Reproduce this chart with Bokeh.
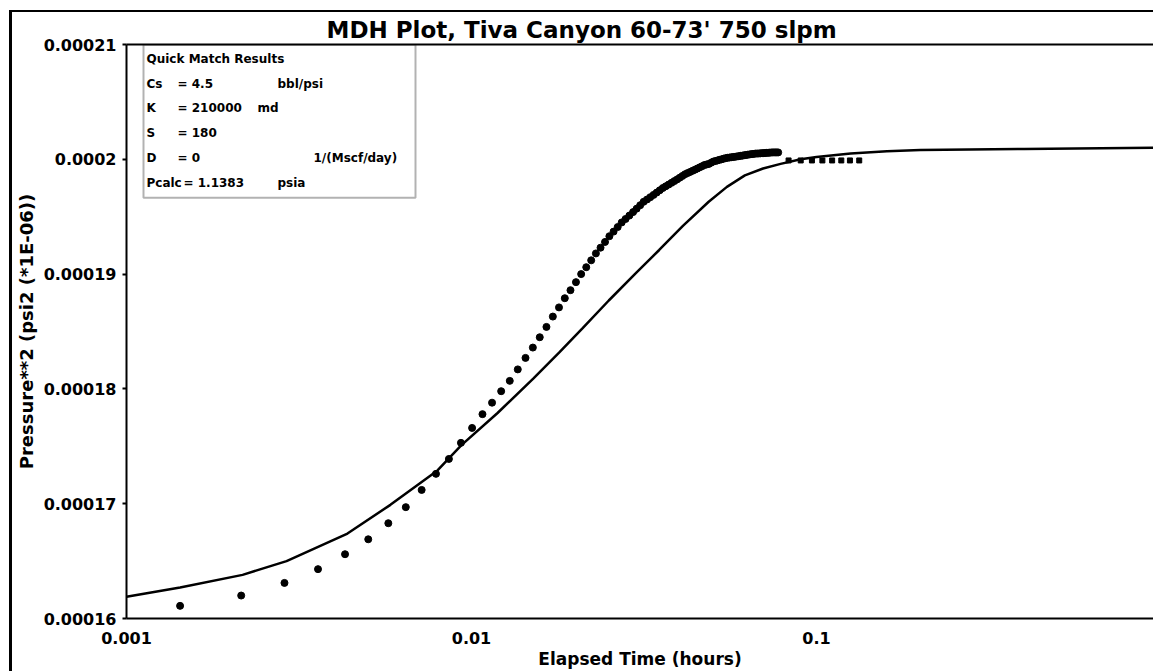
from bokeh.plotting import figure
from bokeh.models import (FixedTicker, CustomJSTickFormatter, Range1d, LogAxis,
                          BoxAnnotation, Label)
from bokeh.embed import file_html
from bokeh.resources import INLINE

# ---------------- data ----------------
title_text = "MDH Plot, Tiva Canyon 60-73' 750 slpm"
x_label = "Elapsed Time (hours)"
y_label = "Pressure**2 (psi2 (*1E-06))"

x_ticks = [0.001, 0.01, 0.1]
y_ticks = [0.00016, 0.00017, 0.00018, 0.00019, 0.0002, 0.00021]

# measured points (filled circles)
t_meas = [0.00143, 0.00215, 0.00287, 0.00359, 0.00430, 0.00502, 0.00574, 0.00645,
          0.00717, 0.00789, 0.00860, 0.00932, 0.01004, 0.01076, 0.01147, 0.01219,
          0.01291, 0.01362, 0.01434, 0.01506, 0.01577, 0.01649, 0.01721, 0.01793,
          0.01864, 0.01936, 0.02008, 0.02079, 0.02151, 0.02223, 0.02294, 0.02366,
          0.02438, 0.02510, 0.02581, 0.02653, 0.02725, 0.02796, 0.02868, 0.02940,
          0.03011, 0.03083, 0.03155, 0.03227, 0.03298, 0.03370, 0.03442, 0.03513,
          0.03585, 0.03657, 0.03728, 0.03800, 0.03872, 0.03944, 0.04015, 0.04087,
          0.04159, 0.04230, 0.04302, 0.04374, 0.04445, 0.04517, 0.04589, 0.04661,
          0.04732, 0.04804, 0.04876, 0.04947, 0.05019, 0.05091, 0.05162, 0.05234,
          0.05306, 0.05378, 0.05449, 0.05521, 0.05593, 0.05664, 0.05736, 0.05808,
          0.05879, 0.05951, 0.06023, 0.06095, 0.06166, 0.06238, 0.06310, 0.06381,
          0.06453, 0.06525, 0.06596, 0.06668, 0.06740, 0.06812, 0.06883, 0.06955,
          0.07027, 0.07098, 0.07170, 0.07242, 0.07313, 0.07385, 0.07457, 0.07529,
          0.07600, 0.07672, 0.07744]
p_meas = [0.0001611, 0.0001620, 0.0001631, 0.0001643, 0.0001656, 0.0001669, 0.0001683, 0.0001697,
          0.0001712, 0.0001726, 0.0001739, 0.0001753, 0.0001766, 0.0001778, 0.0001788, 0.0001798,
          0.0001807, 0.0001817, 0.0001827, 0.0001836, 0.0001845, 0.0001854, 0.0001863, 0.0001871,
          0.0001879, 0.0001886, 0.0001893, 0.0001900, 0.0001906, 0.0001912, 0.0001918, 0.0001923,
          0.0001928, 0.0001933, 0.0001937, 0.0001941, 0.0001945, 0.0001948, 0.0001951, 0.0001954,
          0.0001957, 0.0001960, 0.0001963, 0.0001965, 0.0001967, 0.0001969, 0.0001971, 0.0001973,
          0.0001975, 0.00019765, 0.0001978, 0.00019795, 0.0001981, 0.00019825, 0.0001984, 0.00019855,
          0.0001987, 0.0001988, 0.0001989, 0.0001990, 0.0001991, 0.0001992, 0.0001993, 0.0001994,
          0.0001995, 0.00019955, 0.0001996, 0.0001997, 0.0001998, 0.00019985, 0.0001999, 0.00019995,
          0.0002000, 0.00020005, 0.0002001, 0.00020013, 0.00020015, 0.00020018, 0.0002002, 0.00020022,
          0.00020025, 0.00020027, 0.0002003, 0.00020032, 0.00020035, 0.00020037, 0.0002004, 0.00020042,
          0.00020044, 0.00020046, 0.00020048, 0.0002005, 0.0002005, 0.00020051, 0.00020052, 0.00020053,
          0.00020054, 0.00020055, 0.00020056, 0.00020057, 0.00020058, 0.00020059, 0.0002006, 0.0002006,
          0.0002006, 0.0002006, 0.0002006]

# later measured points (small squares)
t_late = [0.083, 0.090, 0.097, 0.104, 0.111, 0.118, 0.125, 0.133]
p_late = [0.0001999, 0.0001999, 0.0001999, 0.0001999, 0.0001999, 0.0001999, 0.0001999, 0.0001999]

# model match curve (solid line)
t_model = [0.001, 0.00143, 0.00217, 0.00291, 0.00437, 0.00582, 0.00797, 0.00935, 0.0119,
           0.0151, 0.018, 0.021, 0.025, 0.03, 0.035, 0.041, 0.0487, 0.055, 0.062, 0.07,
           0.0787, 0.09, 0.1, 0.1256, 0.16, 0.2, 0.4, 0.95]
p_model = [0.0001619, 0.0001627, 0.0001638, 0.000165, 0.0001674, 0.0001699, 0.0001729, 0.0001751,
           0.0001779, 0.0001809, 0.0001832, 0.0001853, 0.0001877, 0.0001901, 0.0001921, 0.0001942,
           0.0001963, 0.0001976, 0.0001986, 0.0001992, 0.0001996, 0.0002, 0.0002002, 0.0002005,
           0.0002007, 0.0002008, 0.0002009, 0.000201]

box_title = "Quick Match Results"
box_names = ["Cs", "K", "S", "D", "Pcalc"]
box_values = ["= 4.5", "= 210000", "= 180", "= 0", "= 1.1383"]
box_units = ["bbl/psi", "md", "", "1/(Mscf/day)", "psia"]

# ---------------- layout ----------------
FONT = "DejaVu Sans"
W, H = 1153, 671
FL, FT, FB = 126, 44, 621          # frame left / top / bottom (px)
DEC = 345.0                        # px per decade
X0 = 0.001
X1 = 10 ** (-3 + (W - FL) / DEC)
Y0, Y1 = 0.00016, 0.00021


def px2t(px):
    return 10 ** (-3 + (px - FL) / DEC)


def py2p(py):
    return Y0 + (FB - py) / (FB - FT) * (Y1 - Y0)


p = figure(width=W, height=H, x_axis_type="log",
           x_range=Range1d(X0, X1), y_range=Range1d(Y0, Y1),
           output_backend="svg", toolbar_location=None,
           min_border_left=FL, min_border_right=0, min_border_top=FT,
           min_border_bottom=H - FB)

p.outline_line_color = None
p.xgrid.visible = False
p.ygrid.visible = False
p.background_fill_color = "white"
p.border_fill_color = "white"

p.title.text = title_text
p.title.align = "left"
p.title.offset = 200
p.title.text_font = FONT
p.title.text_font_size = "23px"
p.title.text_font_style = "bold"
p.title.text_color = "black"
p.title.standoff = 4

xa = p.xaxis[0]
xa.ticker = FixedTicker(ticks=x_ticks)
xa.formatter = CustomJSTickFormatter(code="return tick.toString();")
xa.axis_line_width = 2
xa.axis_line_color = "black"
xa.major_tick_line_color = None
xa.minor_tick_line_color = None
xa.major_label_standoff = 7
xa.major_label_text_font = FONT
xa.major_label_text_font_style = "bold"
xa.major_label_text_font_size = "16px"
xa.major_label_text_color = "black"
xa.axis_label = x_label
xa.axis_label_text_font = FONT
xa.axis_label_text_font_style = "bold"
xa.axis_label_text_font_size = "17px"
xa.axis_label_text_color = "black"
xa.axis_label_standoff = 2

ya = p.yaxis[0]
ya.ticker = FixedTicker(ticks=y_ticks)
ya.formatter = CustomJSTickFormatter(code="return Number(tick.toPrecision(3)).toString();")
ya.axis_line_width = 2
ya.axis_line_color = "black"
ya.major_tick_line_color = "black"
ya.major_tick_line_width = 2
ya.major_tick_out = 4
ya.major_tick_in = 0
ya.minor_tick_line_color = None
ya.major_label_standoff = 6
ya.major_label_text_font = FONT
ya.major_label_text_font_style = "bold"
ya.major_label_text_font_size = "16px"
ya.major_label_text_color = "black"
ya.axis_label = y_label
ya.axis_label_text_font = FONT
ya.axis_label_text_font_style = "bold"
ya.axis_label_text_font_size = "18px"
ya.axis_label_text_color = "black"
ya.axis_label_standoff = 4

top = LogAxis(ticker=FixedTicker(ticks=[]), axis_line_width=2, axis_line_color="black",
              major_tick_line_color=None, minor_tick_line_color=None,
              major_label_text_font_size="0px", major_label_standoff=0)
p.add_layout(top, "above")

# model curve
p.line(t_model, p_model, line_color="black", line_width=2.5)

# measured points
p.scatter(t_meas, p_meas, marker="circle", size=7, fill_color="black", line_color="black")
p.scatter(t_late, p_late, marker="square", size=5, fill_color="black", line_color="black")

# results box
p.add_layout(BoxAnnotation(left=px2t(143), right=px2t(415), top=Y1, bottom=py2p(198),
                           fill_color=None, fill_alpha=0, line_color="black", line_width=2))

row_y = [84, 108, 133, 158, 183]
val_x = [177, 177, 177, 177, 183]
unit_x = [277, 257, 277, 313, 277]
lab_kw = dict(text_font=FONT, text_font_style="bold", text_font_size="12px",
              text_color="black", text_baseline="middle", text_align="left")
p.add_layout(Label(x=px2t(146), y=py2p(59), text=box_title, **lab_kw))
for nm, vl, un, yy, vx, ux in zip(box_names, box_values, box_units, row_y, val_x, unit_x):
    p.add_layout(Label(x=px2t(146), y=py2p(yy), text=nm, **lab_kw))
    p.add_layout(Label(x=px2t(vx), y=py2p(yy), text=vl, **lab_kw))
    if un:
        p.add_layout(Label(x=px2t(ux), y=py2p(yy), text=un, **lab_kw))

html = file_html(p, INLINE)
css = ("<style>body::before{content:'';position:fixed;left:9px;top:10px;"
       "width:2000px;height:2000px;border-left:3px solid #000;border-top:2px solid #000;"
       "pointer-events:none;z-index:10;}</style>")
html = html.replace("</head>", css + "</head>", 1)
open("out.html", "w").write(html)
